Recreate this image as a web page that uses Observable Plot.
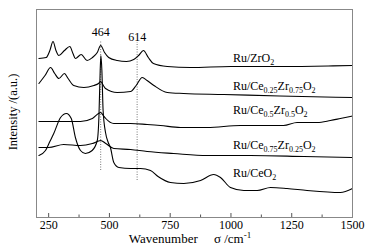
<!DOCTYPE html>
<html>
<head>
<meta charset="utf-8">
<script src="https://cdn.jsdelivr.net/npm/d3@7"></script>
<script src="https://cdn.jsdelivr.net/npm/@observablehq/plot@0.6"></script>
<style>
  body { margin: 0; background: #fff; }
  svg, svg text { font-family: "Liberation Serif", "DejaVu Serif", serif !important; }
</style>
</head>
<body>
<div id="chart"></div>
<script>
// Wavenumber (cm^-1) and relative intensity (a.u., offset stacked) per sample
const zrO2_w = [210,240,255,268,280,292,315,337,350,360,384,408,430,450,464,480,497,532,570,600,620,640,660,681,738,833,1000,1200,1400,1500];
const zrO2_v = [159,160,167,176,167,162,167,171,164,159,163,157,160,165,172,165,160,157,156,158,162,167,160,154,151,150,151,151,151.5,152];

const ce25_w = [210,235,258,275,292,315,330,353,395,436,455,464,475,484,532,587,610,635,655,683,738,805,970,1200,1500];
const ce25_v = [134,142,150,144,139,144,139,132,130,132,134,136,132,129,125,126,132,140,137,132,125,124,123,121.5,120];

const ce50_w = [210,300,381,430,455,464,475,485,518,587,655,710,792,902,1039,1216,1272,1355,1409,1450,1500];
const ce50_v = [96,96,96,99,104,105,102,99,94,94,93,92,90,90,92,92,95,95,97,99,101.5];

const ce75_w = [210,250,312,381,430,464,485,518,587,655,764,902,1080,1300,1500];
const ce75_v = [70,70,73,72,74,77,74,69,68,66,64,62,62,61,60];

const ceO2_w = [210,237,255,271,299,323,343,360,381,401,429,450,457,462,465,469,474,484,495,504,518,539,587,628,669,700,751,806,875,929,957,998,1053,1108,1163,1231,1313,1450,1500];
const ceO2_v = [62,67,76,84,100,104,99,80,67,64,67,77,102,147,162,147,107,85,75,70,55,50,49,49,47,41,35,34,37,43,40,30,27,27,30,29,27,25,29];

const xTicks = [250, 500, 750, 1000, 1250, 1500];
const xMinorTicks = [375, 625, 875, 1125, 1375];
const peakMarks = [464, 614];

// Label parts: [main, sub] segments
const seriesLabels = [
  {name: "Ru/ZrO2", v: 159, parts: [["Ru/ZrO",""],["","2"]]},
  {name: "Ru/Ce0.25Zr0.75O2", v: 131, parts: [["Ru/Ce",""],["","0.25"],["Zr",""],["","0.75"],["O",""],["","2"]]},
  {name: "Ru/Ce0.5Zr0.5O2", v: 107, parts: [["Ru/Ce",""],["","0.5"],["Zr",""],["","0.5"],["O",""],["","2"]]},
  {name: "Ru/Ce0.75Zr0.25O2", v: 72, parts: [["Ru/Ce",""],["","0.75"],["Zr",""],["","0.25"],["O",""],["","2"]]},
  {name: "Ru/CeO2", v: 44, parts: [["Ru/CeO",""],["","2"]]}
];
const labelX = 1010;

const series = [
  ["Ru/ZrO2", zrO2_w, zrO2_v],
  ["Ru/Ce0.25Zr0.75O2", ce25_w, ce25_v],
  ["Ru/Ce0.5Zr0.5O2", ce50_w, ce50_v],
  ["Ru/Ce0.75Zr0.25O2", ce75_w, ce75_v],
  ["Ru/CeO2", ceO2_w, ceO2_v]
];
const rows = series.flatMap(([name, ws, vs]) => ws.map((w, i) => ({name, w, v: vs[i]})));

const plot = Plot.plot({
  width: 385,
  height: 252,
  marginLeft: 36,
  marginRight: 33,
  marginTop: 9,
  marginBottom: 35,
  style: {fontFamily: "'Liberation Serif', serif", fontSize: "12px", color: "#000", background: "#fff"},
  x: {domain: [200, 1500]},
  y: {domain: [0, 208], axis: null},
  marks: [
    Plot.ruleX([464], {y1: 47, y2: 177, stroke: "#555", strokeWidth: 0.8, strokeDasharray: "1,1.5"}),
    Plot.ruleX([614], {y1: 37, y2: 175, stroke: "#555", strokeWidth: 0.8, strokeDasharray: "1,1.5"}),
    Plot.text(peakMarks, {x: d => d, y: [185, 180], text: d => String(d), fontSize: 12, fill: "#000"}),
    Plot.line(rows, {x: "w", y: "v", z: "name", stroke: "#000", strokeWidth: 1.1, curve: "monotone-x"}),
    Plot.ruleX(xTicks, {y1: 0, y2: 4, stroke: "#555", strokeWidth: 1}),
    Plot.ruleX(xMinorTicks, {y1: 0, y2: 2.5, stroke: "#555", strokeWidth: 1}),
    Plot.axisX({ticks: xTicks, tickSize: 0, tickPadding: 3, fontSize: 12, label: null, tickFormat: d => String(d)}),
    Plot.frame({stroke: "#888", strokeWidth: 1})
  ]
});

document.getElementById("chart").appendChild(plot);

const svg = d3.select(plot);
svg.attr("font-family", "'Liberation Serif', serif");
const sx = plot.scale("x"), sy = plot.scale("y");

// Series labels with subscripts
for (const lab of seriesLabels) {
  const t = svg.append("text")
    .attr("x", sx.apply(labelX))
    .attr("y", sy.apply(lab.v))
    .attr("dy", "0.35em")
    .attr("text-anchor", "start")
    .attr("font-size", 12)
    .attr("fill", "#000");
  let shifted = false;
  for (const [main, sub] of lab.parts) {
    if (main) {
      t.append("tspan").attr("dy", shifted ? -3 : null).text(main);
      shifted = false;
    } else {
      t.append("tspan").attr("font-size", 8).attr("dy", shifted ? null : 3).text(sub);
      shifted = true;
    }
  }
}

// X axis title
const xt = svg.append("text")
  .attr("x", sx.apply(850) - 4)
  .attr("y", 243)
  .attr("text-anchor", "middle")
  .attr("font-size", 13)
  .attr("fill", "#000");
xt.append("tspan").text("Wavenumber\u2003\u00A0σ /cm");
xt.append("tspan").attr("font-size", 9).attr("dy", -5).text("-1");

// Y axis title
svg.append("text")
  .attr("transform", `translate(17, ${sy.apply(105)}) rotate(-90)`)
  .attr("text-anchor", "middle")
  .attr("font-size", 12.5)
  .attr("fill", "#000")
  .text("Intensity /(a.u.)");
</script>
</body>
</html>
